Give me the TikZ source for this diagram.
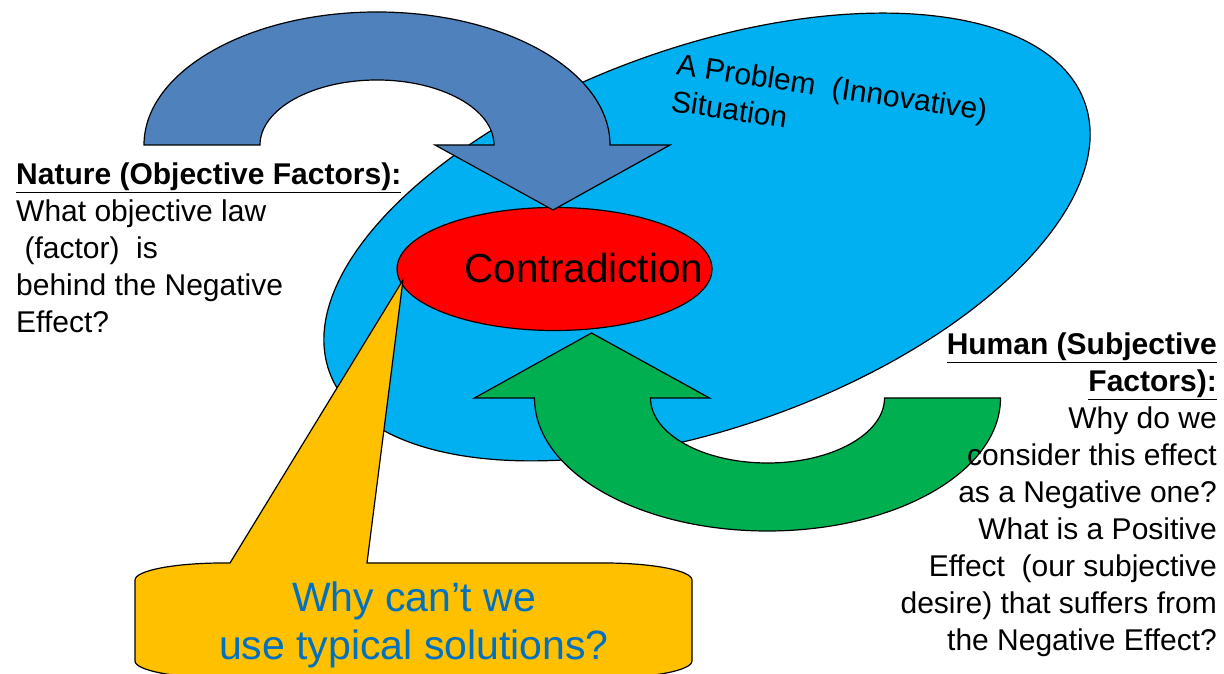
\documentclass[tikz,border=0pt]{standalone}
\usepackage{fontspec}
\setmainfont{Liberation Sans}
\usetikzlibrary{shapes.geometric}

\definecolor{situationblue}{HTML}{00B0F0}
\definecolor{arrowblue}{HTML}{4F81BD}
\definecolor{arrowgreen}{HTML}{00B050}
\definecolor{calloutyellow}{HTML}{FFC000}
\definecolor{questionblue}{HTML}{0070C0}

\begin{document}
\begin{tikzpicture}[x=1pt,y=1pt,
    outline/.style={draw=black,line width=1.2pt},
    bodytext/.style={font=\fontsize{30}{37}\selectfont,inner sep=0pt}]
    \useasboundingbox (0,0) rectangle (1224,674);
    % the problem situation and the contradiction in it
    \node[ellipse,outline,fill=situationblue,minimum width=802,minimum height=380,rotate=19.6] (situation) at (707,437) {};
    \node[ellipse,outline,fill=red,minimum width=315,minimum height=123,inner sep=0pt] (contra) at (554.5,405) {};
    % u-turn arrows
    \draw[outline,fill=arrowblue] (144,529) arc[start angle=180,end angle=0,x radius=233,y radius=133]
        -- (670,529) -- (553,464) -- (435,529) -- (494,529)
        arc[start angle=0,end angle=180,x radius=117,y radius=65] -- cycle;
    \draw[outline,fill=arrowgreen] (1000.5,276) arc[start angle=0,end angle=-180,x radius=233,y radius=133]
        -- (474.5,276) -- (591.5,341) -- (709.5,276) -- (650.5,276)
        arc[start angle=180,end angle=360,x radius=117,y radius=65] -- cycle;
    % callout
    \coordinate (callouttip) at (403,394);
    \draw[outline,fill=calloutyellow] (230,111) -- (callouttip) -- (367,111) -- (604,111)
        arc[start angle=90,end angle=0,x radius=88,y radius=17] -- (692,13)
        arc[start angle=0,end angle=-90,x radius=88,y radius=17] -- (223,-4)
        arc[start angle=270,end angle=180,x radius=88,y radius=17] -- (135,94)
        arc[start angle=180,end angle=90,x radius=88,y radius=17] -- cycle;
    % texts (base = last line)
    \node[font=\fontsize{40.5}{48}\selectfont,inner sep=0pt,anchor=base] (contratext) at (584,391) {Contradiction};
    \node[font=\fontsize{41}{48}\selectfont,inner sep=0pt,anchor=base,align=center,text=questionblue] (question) at (414,14) {Why can’t we\\use typical solutions?};
    \node[bodytext,anchor=base west,align=left,rotate=-8.5] (problem) at (670,563) {A Problem~~(Innovative)\\Situation};
    \node[bodytext,anchor=base west,align=left] (nature) at (16,341) {\underline{\textbf{Nature (Objective Factors):}}\\What objective law\\~(factor)~~is\\behind the Negative\\Effect?};
    \node[bodytext,anchor=base east,align=right] (human) at (1217,23) {\underline{\textbf{Human (Subjective}}\\\underline{\textbf{Factors):}}\\Why do we\\consider this effect\\as a Negative one?\\What is a Positive\\Effect~~(our subjective\\desire) that suffers from\\the Negative Effect?};
\end{tikzpicture}
\end{document}
